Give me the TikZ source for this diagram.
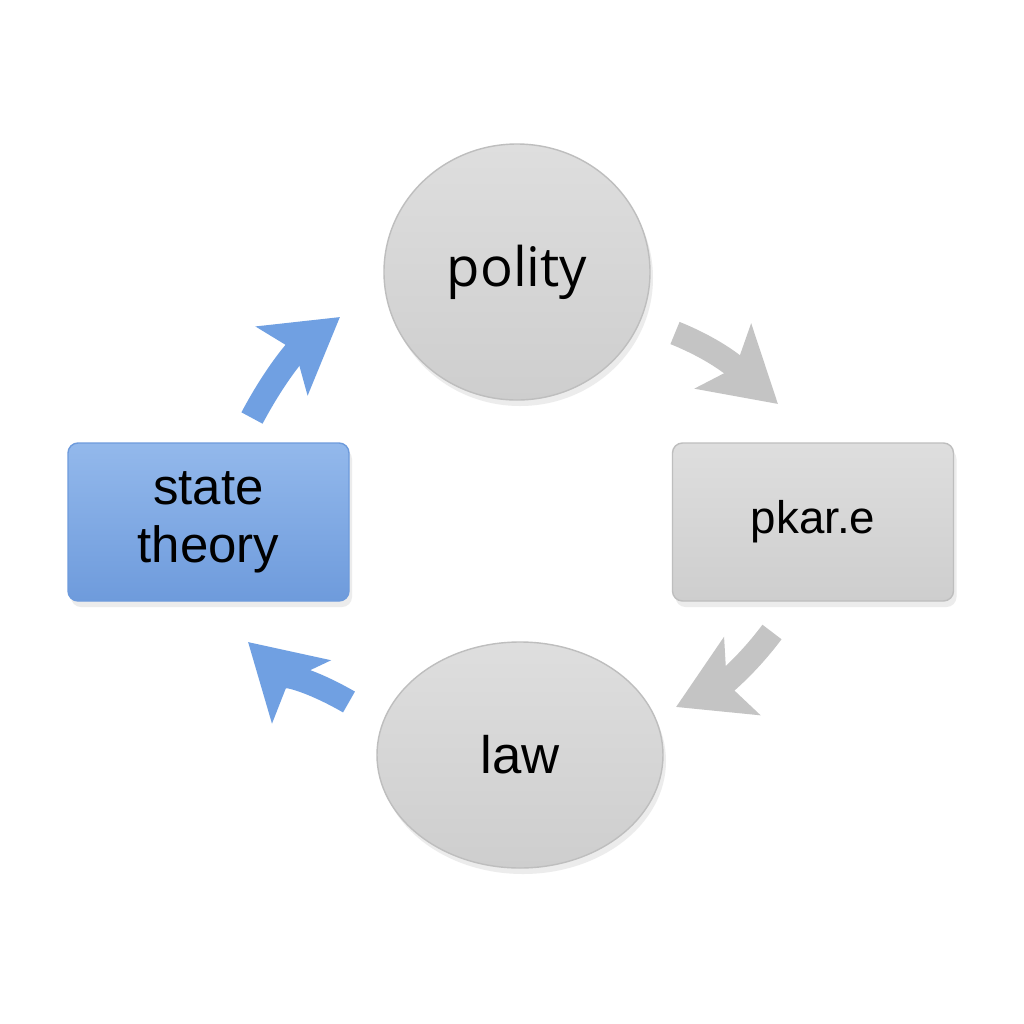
\documentclass[tikz,border=0pt]{standalone}
\usepackage{fontspec}
\setmainfont{Liberation Sans}
\newfontfamily\politfont{Open Sans}
\usepackage{tikz}
\usetikzlibrary{shapes.geometric,arrows.meta,positioning,shadows}
\definecolor{boxblue}{RGB}{128,172,232}
\definecolor{boxbluedark}{RGB}{110,155,220}
\definecolor{arrowblue}{RGB}{112,160,226}
\definecolor{lightgray}{RGB}{222,222,222}
\definecolor{midgray}{RGB}{206,206,206}
\definecolor{arrowgray}{RGB}{196,196,196}
\definecolor{edgegray}{RGB}{190,190,190}
\tikzset{
    topicellipse/.style={
        ellipse,
        draw=edgegray,
        top color=lightgray,
        bottom color=midgray,
        text centered,
        drop shadow={opacity=0.15, shadow xshift=0.3mm, shadow yshift=-0.6mm}
    },
    topicbox/.style={
        rectangle,
        rounded corners=1mm,
        minimum width=2.81cm,
        minimum height=1.58cm,
        text centered,
        align=center,
        drop shadow={opacity=0.15, shadow xshift=0.3mm, shadow yshift=-0.6mm}
    },
    cyclearrow/.style={
        line width=2.4mm,
        -{Stealth[length=7.2mm, width=8.4mm, inset=1.6mm]}
    }
}

\begin{document}
\begin{tikzpicture}
\useasboundingbox[fill=white] (0,0) rectangle (10.24,-10.24);

% polity
\node[topicellipse, minimum width=2.66cm, minimum height=2.56cm,
      font=\politfont\fontsize{15.5}{18}\selectfont] (polity) at (5.17,-2.72) {polity};

% state theory
\node[topicbox, draw=boxbluedark, top color=boxblue!85!white, bottom color=boxbluedark,
      font=\fontsize{14.5}{16.5}\selectfont, text width=2.5cm] (state) at (2.085,-5.22) {state\\theory};

% pkar.e
\node[topicbox, draw=edgegray, top color=lightgray, bottom color=midgray,
      font=\fontsize{13}{15}\selectfont] (pkare) at (8.13,-5.22) {pkar.e};

% law
\node[topicellipse, minimum width=2.86cm, minimum height=2.26cm,
      font=\fontsize{15}{18}\selectfont] (law) at (5.20,-7.55) {law};

% arrow ends
\coordinate (a1s) at (2.52,-4.18);
\coordinate (a1e) at (3.40,-3.17);
\coordinate (a2s) at (6.75,-3.33);
\coordinate (a2e) at (7.78,-4.04);
\coordinate (a3s) at (7.72,-6.32);
\coordinate (a3e) at (6.76,-7.07);
\coordinate (a4s) at (3.49,-7.02);
\coordinate (a4e) at (2.48,-6.42);

% arrows
\draw[cyclearrow, draw=arrowblue] (a1s) to[out=62, in=217] (a1e);
\draw[cyclearrow, draw=arrowgray] (a2s) to[out=-22, in=139] (a2e);
\draw[cyclearrow, draw=arrowgray] (a3s) to[out=233, in=25] (a3e);
\draw[cyclearrow, draw=arrowblue] (a4s) to[out=150, in=317] (a4e);
\end{tikzpicture}
\end{document}
